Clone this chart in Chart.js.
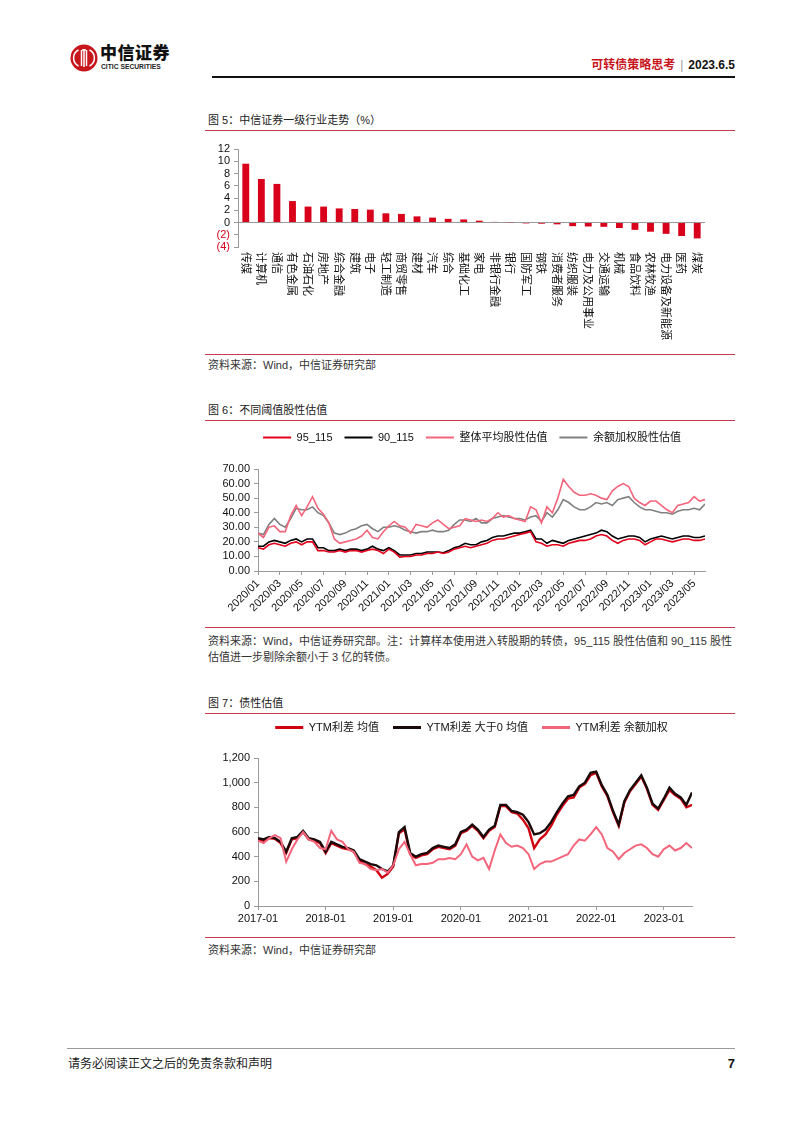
<!DOCTYPE html>
<html lang="zh-CN">
<head>
<meta charset="utf-8">
<title>可转债策略思考</title>
<script src="https://cdn.jsdelivr.net/npm/chart.js@4.4.1/dist/chart.umd.min.js"></script>
<style>
  html, body { margin: 0; padding: 0; background: #fff; }
  body {
    width: 802px; height: 1133px; position: relative; overflow: hidden;
    font-family: "Liberation Sans", Arial, "Noto Sans CJK SC", sans-serif; color: #222;
  }
  .abs { position: absolute; }
  .rule { position: absolute; left: 205px; width: 530px; height: 1px; background: #c83c50; }
  .fig-title { position: absolute; left: 208px; font-size: 11px; line-height: 14px; color: #222; }
  .source { position: absolute; left: 208px; font-size: 11px; line-height: 16px; color: #333; }
  canvas { position: absolute; }
</style>
</head>
<body>

<!-- header -->
<svg class="abs" style="left:70px;top:44px" width="28" height="28" viewBox="0 0 28 28">
  <circle cx="14" cy="14" r="13.5" fill="#c8161d"/>
  <g fill="none" stroke="#fff" stroke-width="1.5">
    <path d="M8.5 6 A9 9 0 0 0 8.5 22"/>
    <path d="M11.5 6 V22"/>
    <path d="M14 5 V23 M12 6 H16"/>
    <path d="M16.5 6 V22"/>
    <path d="M19.5 6 A9 9 0 0 1 19.5 22"/>
  </g>
</svg>
<div class="abs" style="left:100px;top:42px;font-family:'Noto Sans CJK SC';font-weight:900;font-size:17px;line-height:20px;color:#111;letter-spacing:0.5px">中信证券</div>
<div class="abs" style="left:101px;top:62px;font-weight:bold;font-size:8px;line-height:9px;color:#222;transform:scaleX(0.84);transform-origin:left top;white-space:nowrap">CITIC SECURITIES</div>
<div class="abs" style="right:67px;top:57px;font-size:12px;line-height:14px;font-weight:bold;white-space:nowrap">
  <span style="color:#c8161d;font-family:'Noto Sans CJK SC'">可转债策略思考</span><span style="color:#999;font-weight:normal;margin:0 5px">|</span><span style="color:#111">2023.6.5</span>
</div>
<div class="abs" style="left:212px;top:76px;width:523px;height:2px;background:#111"></div>

<!-- figure 5 -->
<div class="fig-title" style="top:113px">图 5：中信证券一级行业走势（%）</div>
<div class="rule" style="top:130px"></div>
<canvas id="industryChart" width="530" height="212" style="left:195px;top:135px"></canvas>
<div class="rule" style="top:354px"></div>
<div class="source" style="top:357px">资料来源：Wind，中信证券研究部</div>

<!-- figure 6 -->
<div class="fig-title" style="top:403px">图 6：不同阈值股性估值</div>
<div class="rule" style="top:420px"></div>
<canvas id="valuationChart" width="540" height="200" style="left:195px;top:420px"></canvas>
<div class="rule" style="top:627px"></div>
<div class="source" style="top:633px">资料来源：Wind，中信证券研究部。注：计算样本使用进入转股期的转债，95_115 股性估值和 90_115 股性<br>估值进一步剔除余额小于 3 亿的转债。</div>

<!-- figure 7 -->
<div class="fig-title" style="top:696px">图 7：债性估值</div>
<div class="rule" style="top:713px"></div>
<canvas id="ytmChart" width="540" height="222" style="left:195px;top:708px"></canvas>
<div class="rule" style="top:937px"></div>
<div class="source" style="top:942px">资料来源：Wind，中信证券研究部</div>

<!-- footer -->
<div class="abs" style="left:67px;top:1048px;width:668px;height:1px;background:#9a9a9a"></div>
<div class="abs" style="left:68px;top:1056px;font-size:12px;line-height:16px;color:#222">请务必阅读正文之后的免责条款和声明</div>
<div class="abs" style="right:67px;top:1056px;font-size:13px;line-height:16px;font-weight:bold;color:#111">7</div>

<script>
// ---- 图5：中信一级行业涨跌幅（%） ----
const industries = ['传媒','计算机','通信','有色金属','石油石化','房地产','综合金融','建筑','电子','轻工制造',
  '商贸零售','建材','汽车','综合','基础化工','家电','非银行金融','银行','国防军工','钢铁',
  '消费者服务','纺织服装','电力及公用事业','交通运输','机械','食品饮料','农林牧渔','电力设备及新能源','医药','煤炭'];
const industryReturns = [9.6, 7.1, 6.3, 3.5, 2.6, 2.6, 2.3, 2.2, 2.1, 1.5,
  1.4, 1.0, 0.8, 0.6, 0.5, 0.3, 0.1, 0.04, -0.15, -0.2,
  -0.3, -0.6, -0.65, -0.7, -0.9, -1.2, -1.5, -1.85, -2.2, -2.6];

// ---- 图6：不同阈值股性估值（半月采样，起点 2020/01） ----
const VAL_STEP = 0.5; // months per sample
const valTickLabels = ['2020/01','2020/03','2020/05','2020/07','2020/09','2020/11','2021/01','2021/03','2021/05',
  '2021/07','2021/09','2021/11','2022/01','2022/03','2022/05','2022/07','2022/09','2022/11','2023/01','2023/03','2023/05'];
const v95 = [16,15,18,19,18,17,19,20,18,20, 20,14,14,13,13,14,13,14,14,13,
  14,15,14,12,15,13,9.5,10,10,11, 11,12,12,13,12,13,15,16,17,16,
  17,18,19,21,22,22,23,24,25,26, 27,20,19,17,18,18,17,19,20,21,
  21,22,24,25,24,21,19,21,22,22, 21,18,20,22,22,21,20,21,22,22, 21,21,22];
const v90 = [17,17,20,21,20,19,21,22,20,22, 22,16,16,14,14,15,14,15,15,14,
  15,17,15,14,16,14,11,11,11,12, 12,13,13,13,12.5,14,16,17,19,18,
  18,20,21,23,24,24,25,26,26,27, 28,22,22,19,21,20,19,21,22,23,
  24,25,26,28,27,24,22,23,24,24, 23,20,22,23,24,23,22,23,24,24, 23,23,24];
const avgVal = [26,23,30,31,27,27,38,45,38,44, 51,43,39,33,22,19,20,21,22,24,
  28,23,22,27,31,34,31,30,26,32, 31,30,33,35,32,29,30,31,36,35,
  34,35,34,36,40,37,38,36,35,34, 44,42,33,44,40,50,63,58,54,52,
  52,53,52,50,49,55,58,60,58,50, 47,45,48,48,45,42,40,45,46,47, 51,48,49];
const balVal = [26,25,32,36,32,30,36,43,42,42, 44,40,38,33,26,25,26,28,29,31,
  32,29,27,30,30,31,30,28,27,26, 27,27,28,27,27,28,32,35,35,34,
  36,33,33,36,37,38,37,36,36,35, 37,38,34,40,37,42,49,47,44,42,
  42,44,47,46,47,45,49,50,51,47, 44,42,42,41,40,40,39,41,42,42, 43,42,46];

// ---- 图7：债性估值 YTM 利差（月度采样，起点 2017-01） ----
const ytmTickLabels = ['2017-01','2018-01','2019-01','2020-01','2021-01','2022-01','2023-01'];
const ytmAvg = [540,530,550,545,510,430,540,550,600,540, 530,510,430,510,490,470,460,440,370,340,
  320,290,230,260,320,590,620,420,390,410, 420,460,480,470,460,490,590,610,650,610,
  550,610,640,810,810,760,750,700,630,470, 540,580,650,740,810,870,880,960,990,1060,
  1080,970,890,760,650,840,930,990,1050,950, 820,780,860,940,900,870,800,820];
const ytmPos = [550,540,560,550,520,440,550,560,610,550, 540,520,440,520,500,480,470,450,380,360,
  340,330,300,280,330,600,640,430,400,420, 430,470,490,480,470,500,600,620,660,620,
  560,620,650,820,820,770,760,740,680,580, 590,620,680,760,830,890,900,970,1000,1080,
  1090,980,900,770,660,850,940,1000,1060,960, 830,790,870,960,910,880,820,920];
const ytmBal = [530,510,550,575,550,360,460,540,600,540, 520,470,460,610,540,520,460,440,350,340,
  300,290,300,270,330,460,520,420,330,340, 340,350,380,380,390,380,420,500,400,370,
  390,300,450,580,510,480,490,470,420,300, 340,360,360,380,400,420,490,540,530,580,
  640,580,470,440,380,430,460,490,500,470, 420,400,460,490,450,470,510,470];

const RED = '#d9001b';
const PINK = '#f4657b';
const AXIS = '#9a9a9a';

Chart.defaults.font.family = '"Liberation Sans", Arial, "Noto Sans CJK SC", sans-serif';
Chart.defaults.font.size = 11;
Chart.defaults.color = '#111';

// legend is kept compact: shrink the box Chart.js reserves for it, and nudge it sideways
const legendFit = {
  id: 'legendFit',
  beforeLayout(chart, args, opts) {
    const lg = chart.legend;
    if (!lg || lg._fitPatched || !opts.height) return;
    const fit = lg.fit;
    lg.fit = function () { fit.call(this); this.height = opts.height; };
    lg._fitPatched = true;
  },
  afterLayout(chart, args, opts) {
    const lg = chart.legend;
    if (!lg || !opts.shift) return;
    lg.left += opts.shift;
    lg.right += opts.shift;
  }
};

// industry names drawn top-to-bottom under each bar
const verticalLabels = {
  id: 'verticalLabels',
  afterDraw(chart) {
    const xs = chart.scales.x, ctx = chart.ctx;
    ctx.save();
    ctx.font = '11px "Noto Sans CJK SC", sans-serif';
    ctx.fillStyle = '#111';
    ctx.textAlign = 'left';
    ctx.textBaseline = 'middle';
    chart.data.labels.forEach((lab, i) => {
      ctx.save();
      ctx.translate(xs.getPixelForTick(i), chart.chartArea.bottom + 5);
      ctx.rotate(Math.PI / 2);
      ctx.fillText(lab, 0, 0);
      ctx.restore();
    });
    ctx.restore();
  }
};

const legendLabels = (boxHeight, padding) => ({
  boxWidth: 28, boxHeight, padding, color: '#111', font: { size: 11 },
  sort: (a, b) => a.datasetIndex - b.datasetIndex,
  generateLabels: chart => Chart.defaults.plugins.legend.labels.generateLabels(chart).map(l => ({ ...l, lineWidth: 0 }))
});

const monthOf = (label, baseYear) => (parseInt(label.slice(0, 4), 10) - baseYear) * 12 + parseInt(label.slice(5), 10) - 1;

function lineSet(label, values, color, step, width, order) {
  return {
    label, order,
    data: values.map((y, i) => ({ x: i * step, y })),
    borderColor: color, backgroundColor: color, borderWidth: width,
    pointRadius: 0, tension: 0
  };
}

// Figure 5
new Chart(document.getElementById('industryChart'), {
  type: 'bar',
  data: {
    labels: industries,
    datasets: [{ data: industryReturns, backgroundColor: RED, categoryPercentage: 1, barPercentage: 0.44 }]
  },
  options: {
    responsive: false, animation: false,
    layout: { padding: { top: 14, right: 20 } },
    plugins: { legend: { display: false }, tooltip: { enabled: false } },
    scales: {
      x: {
        grid: { display: false }, border: { display: false }, ticks: { display: false },
        afterFit: s => { s.height = 100; }
      },
      y: {
        min: -4, max: 12,
        ticks: {
          stepSize: 2, padding: 4, autoSkip: false,
          color: c => c.tick.value < 0 ? RED : '#111',
          callback: v => v < 0 ? `(${-v})` : v
        },
        grid: { color: c => c.tick.value === 0 ? AXIS : 'transparent', tickColor: AXIS, tickLength: 4 },
        border: { color: AXIS },
        afterFit: s => { s.width = 43; }
      }
    }
  },
  plugins: [verticalLabels]
});

// Figure 6
new Chart(document.getElementById('valuationChart'), {
  type: 'line',
  data: {
    datasets: [
      lineSet('95_115', v95, '#e2001a', VAL_STEP, 1.6, 0),
      lineSet('90_115', v90, '#000000', VAL_STEP, 1.6, 1),
      lineSet('整体平均股性估值', avgVal, PINK, VAL_STEP, 1.6, 2),
      lineSet('余额加权股性估值', balVal, '#808080', VAL_STEP, 1.6, 3)
    ]
  },
  options: {
    responsive: false, animation: false,
    layout: { padding: { right: 30 } },
    plugins: {
      legend: { position: 'top', labels: legendLabels(2, 12) },
      legendFit: { height: 49, shift: 22 },
      tooltip: { enabled: false }
    },
    scales: {
      x: {
        type: 'linear', min: 0, max: 41,
        afterBuildTicks: s => { s.ticks = valTickLabels.map(t => ({ value: monthOf(t, 2020) })); },
        ticks: { autoSkip: false, minRotation: 45, maxRotation: 45, padding: 2, callback: (v, i) => valTickLabels[i] },
        grid: { drawOnChartArea: false, color: AXIS, tickLength: 4 },
        border: { color: AXIS },
        afterFit: s => { s.height = 49; }
      },
      y: {
        min: 0, max: 70,
        ticks: { stepSize: 10, padding: 4, autoSkip: false, callback: v => v.toFixed(2) },
        grid: { drawOnChartArea: false, color: AXIS, tickLength: 4 },
        border: { color: AXIS },
        afterFit: s => { s.width = 63; }
      }
    }
  },
  plugins: [legendFit]
});

// Figure 7
new Chart(document.getElementById('ytmChart'), {
  type: 'line',
  data: {
    datasets: [
      lineSet('YTM利差 均值', ytmAvg, '#d0000f', 1, 2.4, 3),
      lineSet('YTM利差 大于0 均值', ytmPos, '#1a0a0a', 1, 2.4, 2),
      lineSet('YTM利差 余额加权', ytmBal, PINK, 1, 2, 1)
    ]
  },
  options: {
    responsive: false, animation: false,
    layout: { padding: { right: 43 } },
    plugins: {
      legend: { position: 'top', labels: legendLabels(3, 14) },
      legendFit: { height: 50, shift: 28 },
      tooltip: { enabled: false }
    },
    scales: {
      x: {
        type: 'linear', min: 0, max: 77,
        afterBuildTicks: s => { s.ticks = ytmTickLabels.map(t => ({ value: monthOf(t, 2017) })); },
        ticks: { autoSkip: false, minRotation: 0, maxRotation: 0, padding: 2, callback: (v, i) => ytmTickLabels[i] },
        grid: { drawOnChartArea: false, color: AXIS, tickLength: 4 },
        border: { color: AXIS },
        afterFit: s => { s.height = 24; }
      },
      y: {
        min: 0, max: 1200,
        ticks: { stepSize: 200, padding: 4, autoSkip: false, callback: v => v.toLocaleString('en-US') },
        grid: { drawOnChartArea: false, color: AXIS, tickLength: 4 },
        border: { color: AXIS },
        afterFit: s => { s.width = 63; }
      }
    }
  },
  plugins: [legendFit]
});
</script>
</body>
</html>
